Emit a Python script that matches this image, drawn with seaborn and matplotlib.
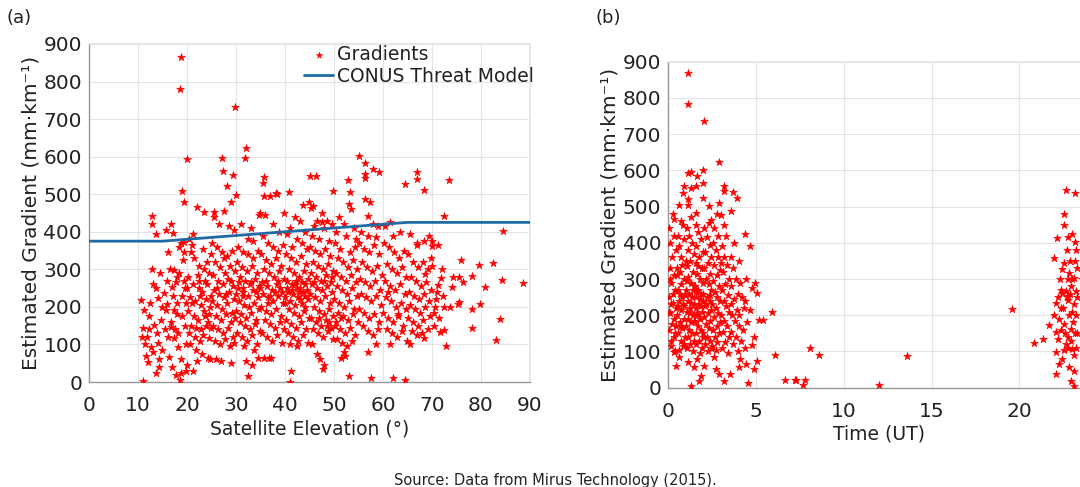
import numpy as np
import matplotlib
matplotlib.use("Agg")
import matplotlib.pyplot as plt
import pandas as pd
import seaborn as sns

# panel (a): gradient vs satellite elevation
elev_pts = [
    (10.6,218),(11.3,192),(11.1,143),(11.8,121),(12.6,94),(12,54),(13.6,23),(11.1,2),(10.8,120),(12.8,442),
    (12.8,421),(13.6,394),(13.6,249),(14,223),(13.3,152),(14.7,165),(14,103),(12.2,175),(11.5,100),(12.5,210),
    (13,260),(14.2,60),(14.5,290),(13.8,130),(12.3,140),(11.7,70),(14.8,200),(13.1,80),(14.3,40),(12.9,300),
    (18.7,865),(18.6,780),(20.1,594),(19.0,508),(19.3,478),(15.7,405),(16.7,421),(17.2,397),(15.3,236),(16,208),
    (15.7,192),(17.4,192),(16.7,147),(17.4,116),(18.1,94),(16.4,67),(17,41),(17.7,19),(18.7,23),(15,85),
    (17.4,298),(17.7,267),(17,254),(18.4,360),(18.7,369),(19.4,373),(19.4,347),(19.1,325),(16.2,345),(17.9,280),
    (18.3,290),(19.5,250),(18.9,230),(16.8,160),(17.5,140),(18.2,130),(19.6,150),(19.0,175),(16.1,120),(18.8,60),
    (19.7,100),(15.5,140),(17.9,210),(19.8,210),(16.6,300),(15.9,270),(18.5,5),(19.9,30),(17.2,230),(18.0,180),(19.3,270),
    (22.1,466),(23.4,452),(20.5,380),(21,365),(20.8,345),(21.5,330),(22.5,310),(23.5,300),(24.5,290),(20.3,280),
    (21.2,260),(22.4,250),(23.1,240),(24.1,260),(24.8,230),(20.6,225),(21.7,215),(22.8,205),(23.8,220),(24.6,200),
    (20.2,190),(21.4,175),(22.3,165),(23.6,175),(24.3,160),(20.9,150),(21.9,145),(22.9,140),(23.9,150),(24.9,145),
    (20.4,130),(21.6,120),(22.6,110),(23.3,125),(24.4,118),(20.7,100),(21.8,85),(23,75),(24.2,65),(22,55),
    (21.2,30),(24.7,60),(20.1,45),(23.7,270),(22.2,285),(24,320),(21.3,395),(24.8,340),(23.2,355),(20,250),
    (22.7,230),(24.5,180),(21,210),(23.5,190),(22.5,270),
    (29.7,733),(27.1,596),(27.4,562),(29.3,552),(28.1,523),(30,499),(28.9,478),(25.5,452),(25.5,440),(27.6,456),
    (26.5,420),(28.5,415),(29.5,405),(25.2,370),(26.2,360),(27.2,345),(28.2,335),(29.2,350),(25.8,320),(26.8,305),
    (27.8,290),(28.8,310),(29.8,295),(25.4,285),(26.4,270),(27.4,260),(28.4,275),(29.4,255),(25.6,245),(26.6,235),
    (27.6,225),(28.6,240),(29.6,220),(25.1,215),(26.1,205),(27.1,195),(28.1,210),(29.1,185),(25.9,175),(26.9,165),
    (27.9,180),(28.9,160),(29.9,170),(25.3,150),(26.3,140),(27.3,130),(28.3,145),(29.3,120),(25.7,110),(26.7,100),
    (27.7,115),(28.7,95),(29.5,105),(26,60),(27,55),(29,50),(28,235),(26.2,250),(29,270),(27.5,330),
    (32,622),(31.8,597),(31,420),(33,410),(34.6,445),(34.9,450),(32.5,380),(33.5,375),(30.5,360),(31.5,345),
    (32.5,340),(33.5,330),(34.5,350),(30.2,320),(31.2,305),(32.2,295),(33.2,310),(34.2,290),(30.8,280),(31.8,270),
    (32.8,260),(33.8,275),(34.8,255),(30.4,250),(31.4,240),(32.4,230),(33.4,245),(34.4,225),(30.6,215),(31.6,205),
    (32.6,200),(33.6,210),(34.6,195),(30.1,190),(31.1,180),(32.1,170),(33.1,185),(34.1,165),(30.9,160),(31.9,150),
    (32.9,140),(33.9,155),(34.9,135),(30.3,130),(31.3,120),(32.3,110),(33.3,125),(34.3,100),(31.7,95),(33.7,85),
    (32,55),(33.2,45),(34.5,65),(32.5,15),(30.7,265),(31.5,230),(34,240),(33,265),(30,235),(31.5,250),
    (35.7,547),(35.5,529),(35.8,495),(36.9,496),(38.2,504),(38.3,500),(39.8,449),(36,445),(37.5,420),(38.8,400),
    (35.5,390),(36.5,370),(37.5,360),(38.5,350),(39.5,365),(35.2,340),(36.2,325),(37.2,315),(38.2,330),(39.2,310),
    (35.8,300),(36.8,290),(37.8,280),(38.8,295),(39.8,275),(35.4,265),(36.4,255),(37.4,245),(38.4,260),(39.4,240),
    (35.6,235),(36.6,225),(37.6,215),(38.6,230),(39.6,210),(35.1,200),(36.1,190),(37.1,180),(38.1,195),(39.1,175),
    (35.9,165),(36.9,155),(37.9,145),(38.9,160),(39.9,140),(35.3,130),(36.3,120),(37.3,110),(38.3,125),(39.3,105),
    (36.7,65),(37.2,65),(35.8,65),(38,240),(36.2,270),(39,250),(37,230),(35,250),(38.5,270),(36.5,210),
    (40.8,505),(43.6,470),(44.9,478),(42,440),(43,430),(41,410),(44,400),(40.5,395),(42.5,380),(43.5,370),
    (41.5,360),(44.5,355),(40.2,340),(41.2,330),(42.2,320),(43.2,335),(44.2,315),(40.8,300),(41.8,290),(42.8,280),
    (43.8,295),(44.8,275),(40.4,270),(41.4,260),(42.4,250),(43.4,265),(44.4,245),(40.6,240),(41.6,235),(42.6,225),
    (43.6,240),(44.6,220),(40.1,225),(41.1,215),(42.1,205),(43.1,220),(44.1,200),(40.9,195),(41.9,185),(42.9,175),
    (43.9,190),(44.9,170),(40.3,165),(41.3,155),(42.3,145),(43.3,160),(44.3,140),(40.7,130),(41.7,120),(42.7,110),
    (43.7,125),(44.7,105),(41,100),(42.5,95),(41,0),(41.3,30),(40.5,250),(42,260),(43,250),(44,260),
    (41.5,245),(42.8,240),(40,210),(43.5,210),(44,230),(42.2,270),
    (45.2,548),(46.4,548),(45.4,462),(45.8,469),(47.5,449),(49.9,508),(46.5,430),(47.5,425),(48.5,430),(49.5,420),
    (46,415),(48,410),(45.5,390),(47,380),(49,375),(45.2,360),(46.2,350),(47.2,340),(48.2,355),(49.2,335),
    (45.8,320),(46.8,310),(47.8,300),(48.8,315),(49.8,295),(45.4,290),(46.4,280),(47.4,270),(48.4,285),(49.4,265),
    (45.6,260),(46.6,250),(47.6,245),(48.6,255),(49.6,240),(45.1,235),(46.1,225),(47.1,215),(48.1,230),(49.1,210),
    (45.9,200),(46.9,190),(47.9,180),(48.9,195),(49.9,175),(45.3,170),(46.3,160),(47.3,150),(48.3,165),(49.3,145),
    (45.7,140),(46.7,130),(47.7,120),(48.7,135),(49.7,115),(46.5,75),(47.2,60),(48,45),(47.8,35),(45.5,100),
    (48.5,150),(49,160),(47,170),(46,265),(48,270),(49.5,280),
    (55.2,601),(52.9,537),(53.2,507),(53,474),(53.4,461),(51,440),(52,420),(54,410),(50.5,400),(52.5,390),
    (54.5,380),(50.2,370),(51.2,355),(53.2,345),(54.2,360),(50.8,330),(51.8,320),(52.8,305),(53.8,325),(54.8,300),
    (50.4,290),(51.4,280),(52.4,270),(53.4,285),(54.4,265),(50.6,255),(51.6,245),(52.6,235),(53.6,250),(54.6,230),
    (50.1,220),(51.1,210),(52.1,200),(53.1,215),(54.1,195),(50.9,185),(51.9,175),(52.9,165),(53.9,180),(54.9,160),
    (50.3,150),(51.3,140),(52.3,130),(53.3,145),(54.3,125),(50.7,115),(51.7,105),(52.7,95),(53.7,110),(52,80),
    (52.3,70),(51.5,65),(53,15),(50.5,160),(51.5,170),
    (56.4,584),(57.9,568),(59.1,559),(56.4,553),(56.4,542),(56.3,486),(57.4,479),(56.9,443),(58,420),(59,415),
    (55.5,400),(57,390),(58.5,385),(55.2,370),(56.2,355),(57.2,345),(58.2,365),(59.2,340),(55.8,320),(56.8,305),
    (57.8,295),(58.8,310),(59.8,285),(55.4,275),(56.4,265),(57.4,255),(58.4,270),(59.4,245),(55.6,235),(56.6,225),
    (57.6,215),(58.6,230),(59.6,205),(55.1,195),(56.1,185),(57.1,170),(58.1,180),(59.1,160),(55.9,150),(56.9,135),
    (57.9,125),(58.9,140),(57,80),(57.5,10),(58.5,100),
    (64.4,527),(61.5,425),(60.5,415),(63.5,400),(62,390),(60.2,370),(61.2,360),(62.2,345),(63.2,330),(64.2,350),
    (60.8,315),(61.8,300),(62.8,290),(63.8,305),(64.8,280),(60.4,270),(61.4,255),(62.4,245),(63.4,260),(64.4,235),
    (60.6,225),(61.6,215),(62.6,200),(63.6,210),(64.6,195),(60.1,185),(61.1,170),(62.1,160),(63.1,175),(64.1,150),
    (60.9,140),(61.9,130),(62.9,120),(63.9,135),(64.9,110),(61.5,100),(62,10),(64.5,5),(63,180),(61,240),
    (66.9,558),(66.9,540),(68.3,511),(66.9,371),(68.4,375),(69.4,390),(65.5,395),(67,365),(69.9,329),(68.6,287),
    (65.2,340),(66.2,320),(67.2,305),(68.2,320),(69.2,300),(65.8,280),(66.8,270),(67.8,255),(68.8,265),(69.8,245),
    (65.4,240),(66.4,230),(67.4,220),(68.4,235),(69.4,215),(65.6,205),(66.6,195),(67.6,185),(68.6,200),(69.6,175),
    (65.1,170),(66.1,160),(67.1,150),(68.1,165),(69.1,140),(65.9,135),(66.9,125),(67.9,130),(68.4,116),(65.5,100),
    (70,375),(70.1,361),(71.3,364),(70.1,309),(72.5,443),(73.4,537),(84.5,403),(75.9,325),(79.7,311),(82.5,318),
    (74.3,280),(75.6,280),(78.1,283),(76.3,265),(74.1,254),(71.9,277),(71.3,258),(84.2,271),(88.5,264),(80.9,252),
    (75.6,212),(75.3,208),(73.7,199),(72.4,199),(78.1,195),(79.8,208),(70.5,185),(83.9,167),(78.1,143),(83,112),
    (72.8,97),(72.4,138),(71.6,134),(70.8,220),(71,240),(72,300),(70.4,150),(71.5,170),(72.2,230),(70.6,200),
]
elevation = [p[0] for p in elev_pts]
gradient_a = [p[1] for p in elev_pts]

# CONUS threat model
threat_elev = [0, 15, 65, 90]
threat_grad = [375, 375, 425, 425]

# panel (b): gradient vs time of day
time_pts = [
    (1.13,870),(1.13,782),(2.03,735),(2.88,623),(1.1,593),(1.32,596),(2.0,602),(1.62,583),(1.57,556),(1.28,551),
    (0.9,556),(2.0,565),(3.16,556),(3.16,543),(3.66,541),(3.92,525),(2.0,523),(2.32,502),(0.81,537),(0.62,504),
    (1.1,504),(1.56,481),(0.34,467),(0.81,448),(2.41,462),(2.98,476),(3.6,488),(4.39,425),(4.67,392),
    (5.9,210),(5.39,187),(6.08,89),(6.65,20),(7.2,20),(1.32,5),(4.52,12),(4.94,289),(5.05,261),(4.77,275),
    (4.39,238),(4.67,215),(5.14,187),(4.86,140),(4.77,117),(5.05,75),(4.86,51),(4.45,65),(4.01,56),(3.54,37),
    (3.16,18),(2.88,37),(2.69,51),(2.6,84),(2.03,60),(1.85,32),(1.75,18),(1.47,56),(1.1,70),(0.44,60),
    (0.34,98),(0.9,121),(0.15,130),
    (8.06,110),(8.59,90),(7.27,20),(7.78,22),(7.65,8),(11.98,8),(13.6,88),(19.59,216),(20.83,124),(21.34,135),
    (0.05,440),(0.1,400),(0.2,360),(0.08,330),(0.3,310),(0.15,290),(0.4,270),(0.05,250),(0.25,235),(0.45,220),
    (0.1,205),(0.35,190),(0.2,175),(0.05,160),(0.4,150),(0.3,140),(0.15,115),(0.45,380),(0.35,420),(0.25,480),
    (0.12,300),(0.48,330),(0.02,210),(0.28,260),(0.42,170),(0.18,230),(0.38,100),
    (0.55,420),(0.6,390),(0.7,360),(0.8,340),(0.65,320),(0.9,300),(0.75,285),(0.55,270),(0.95,255),(0.6,240),
    (0.85,230),(0.7,215),(0.5,200),(0.9,190),(0.65,180),(0.8,165),(0.55,150),(0.95,140),(0.7,130),(0.85,115),
    (0.6,105),(0.75,460),(0.88,410),(0.52,310),(0.68,260),(0.78,250),(0.92,225),(0.58,225),(0.98,350),(0.72,170),(0.62,85),
    (1.05,440),(1.2,420),(1.35,400),(1.1,380),(1.45,370),(1.25,350),(1.05,335),(1.4,320),(1.15,305),(1.3,290),
    (1.45,280),(1.0,270),(1.2,260),(1.35,250),(1.1,240),(1.45,230),(1.25,220),(1.05,210),(1.4,200),(1.15,190),
    (1.3,180),(1.0,170),(1.2,160),(1.35,150),(1.1,140),(1.45,130),(1.25,120),(1.05,110),(1.4,100),(1.3,470),
    (1.15,520),(1.38,270),(1.22,205),(1.48,185),(1.08,295),(1.32,235),
    (1.55,450),(1.7,430),(1.85,410),(1.6,390),(1.95,375),(1.75,360),(1.55,345),(1.9,330),(1.65,315),(1.8,300),
    (1.95,290),(1.5,280),(1.7,270),(1.85,260),(1.6,250),(1.95,240),(1.75,230),(1.55,220),(1.9,210),(1.65,200),
    (1.8,190),(1.5,180),(1.7,170),(1.85,160),(1.6,150),(1.95,140),(1.75,130),(1.55,120),(1.9,110),(1.8,95),
    (1.65,80),(1.78,245),(1.62,205),(1.88,225),(1.58,265),(1.72,335),
    (2.05,440),(2.2,415),(2.35,395),(2.1,375),(2.45,360),(2.25,345),(2.05,330),(2.4,315),(2.15,300),(2.3,285),
    (2.45,270),(2.0,260),(2.2,250),(2.35,240),(2.1,225),(2.45,215),(2.25,205),(2.05,195),(2.4,185),(2.15,175),
    (2.3,165),(2.0,150),(2.2,140),(2.35,130),(2.1,120),(2.45,110),(2.25,100),(2.3,455),(2.15,230),(2.38,255),
    (2.55,400),(2.7,380),(2.85,360),(2.6,340),(2.95,325),(2.75,310),(2.55,295),(2.9,280),(2.65,265),(2.8,250),
    (2.95,240),(2.5,230),(2.7,220),(2.85,205),(2.6,195),(2.95,180),(2.75,170),(2.55,160),(2.9,150),(2.65,140),
    (2.8,125),(2.5,115),(2.7,105),(2.85,420),(2.6,440),(2.9,510),(2.78,480),
    (3.05,390),(3.2,360),(3.35,340),(3.1,320),(3.45,300),(3.25,285),(3.05,270),(3.4,255),(3.15,240),(3.3,225),
    (3.45,210),(3.0,200),(3.2,185),(3.35,170),(3.1,155),(3.45,140),(3.25,125),(3.05,110),(3.4,95),(3.3,420),
    (3.15,450),(3.0,345),
    (3.55,360),(3.7,330),(3.85,300),(3.6,280),(3.95,260),(3.75,245),(3.55,230),(3.9,215),(3.65,200),(3.8,185),
    (4.0,170),(3.6,155),(3.85,140),(3.7,120),(4.1,290),(4.2,250),(4.3,220),(4.05,200),(4.25,160),(4.15,130),
    (3.95,100),(4.35,110),(4.1,80),(3.75,400),(4.0,350),(4.45,300),(4.5,180),
    (22.65,546),(23.2,537),(22.52,479),(22.56,448),(22.15,413),(22.79,415),(23.03,425),(23.16,401),
    (21.99,359),(22.52,345),(22.46,329),(22.84,317),(23.13,303),(22.75,299),(22.94,280),(23.22,266),(22.65,266),
    (22.75,241),(22.09,233),(22.37,219),(21.99,201),(22.28,191),(21.72,173),(22.56,177),(22.94,163),(22.09,154),
    (22.19,135),(22.65,121),(23.03,107),(22.09,98),(22.46,79),(22.28,65),(22.84,56),(23.13,47),(22.09,39),
    (22.94,19),(23.13,4),(22.41,261),(22.75,252),(22.56,103),
    (22.9,350),(23.0,300),(22.7,250),(23.1,230),(22.85,200),(23.05,180),(22.6,150),(22.95,130),(22.4,270),
    (22.3,300),(22.7,380),(23.15,350),(22.5,220),(22.8,140),(23.1,90),(22.2,250),(22.9,260),(23.0,210),
    (23.15,150),(22.75,110),(22.4,160),(23.25,380),(23.28,330),(23.3,250),(23.22,200),(23.27,150),(23.24,110),
    (23.6,300),(23.8,220),
]
time_ut = [p[0] for p in time_pts]
gradient_b = [p[1] for p in time_pts]

df_a = pd.DataFrame({"elev": elevation, "grad": gradient_a})
df_b = pd.DataFrame({"time": time_ut, "grad": gradient_b})
df_t = pd.DataFrame({"elev": threat_elev, "grad": threat_grad})

sns.set_theme(style="white")
plt.rcParams["font.family"] = ["DejaVu Sans"]

fig = plt.figure(figsize=(10.8, 4.87), dpi=100)
ax1 = fig.add_axes([0.0824, 0.2156, 0.4083, 0.6941])
ax2 = fig.add_axes([0.6188, 0.2039, 0.39, 0.6695])

red = "#ff0000"
txt = "#222222"
gridc = "#e4e4e4"

sns.scatterplot(data=df_a, x="elev", y="grad", ax=ax1, color=red, marker="*",
                s=34, linewidth=0.4, edgecolor=red, label="Gradients", zorder=3)
sns.lineplot(data=df_t, x="elev", y="grad", ax=ax1, color="#1f6aa5",
             linewidth=2, label="CONUS Threat Model", zorder=4)
sns.scatterplot(data=df_b, x="time", y="grad", ax=ax2, color=red, marker="*",
                s=34, linewidth=0.4, edgecolor=red, zorder=3, legend=False)

for ax in (ax1, ax2):
    ax.set_ylim(0, 900)
    ax.set_yticks(range(0, 901, 100))
    ax.grid(True, color=gridc, linewidth=0.8, zorder=0)
    ax.set_axisbelow(True)
    for s in ("top", "right"):
        ax.spines[s].set_color(gridc)
    for s in ("left", "bottom"):
        ax.spines[s].set_color("#999999")
        ax.spines[s].set_linewidth(1.0)
    ax.tick_params(direction="in", length=3, color="#999999", labelsize=14.5,
                   labelcolor=txt)
    ax.tick_params(axis="y", pad=5)
    ax.tick_params(axis="x", pad=10)
    ax.set_ylabel("Estimated Gradient (mm·km⁻¹)", fontsize=14.5, color=txt, labelpad=2)

ax1.set_xlim(0, 90)
ax1.set_xticks(range(0, 91, 10))
ax1.set_xlabel("Satellite Elevation (°)", fontsize=13.5, color=txt, labelpad=3)

ax2.set_xlim(0, 24)
ax2.set_xticks(range(0, 21, 5))
ax2.set_xlabel("Time (UT)", fontsize=13.5, color=txt, labelpad=3)

leg = ax1.legend(loc="upper right", bbox_to_anchor=(1.035, 1.03), frameon=False,
                 fontsize=13.5, handlelength=1.5, handletextpad=0.25, labelspacing=0.15,
                 markerscale=0.8, borderaxespad=0.2)
for t in leg.get_texts():
    t.set_color(txt)

fig.text(0.006, 0.952, "(a)", fontsize=13, color=txt)
fig.text(0.551, 0.952, "(b)", fontsize=13, color=txt)
fig.text(0.514, 0.004, "Source: Data from Mirus Technology (2015).", fontsize=10.5,
         color=txt, ha="center")

fig.savefig("out.png", dpi=100)
